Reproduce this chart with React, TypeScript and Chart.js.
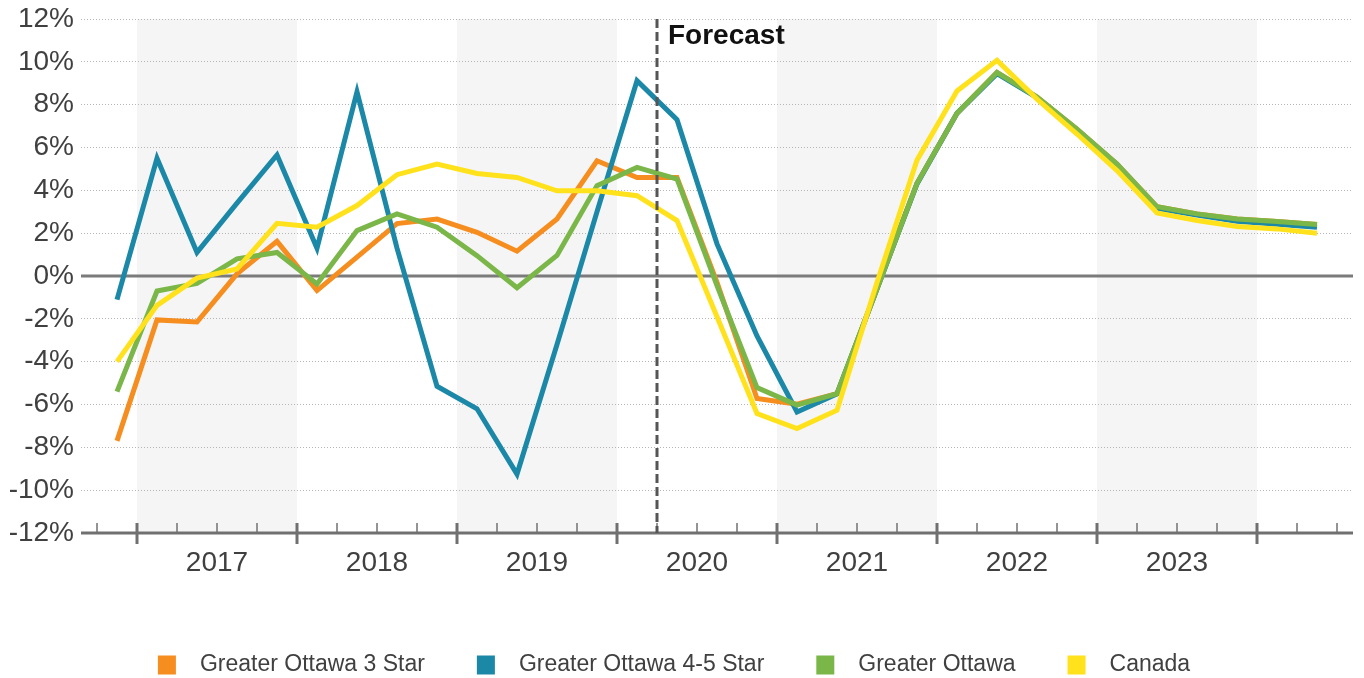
import React, { useEffect, useRef } from 'react';
import { Chart, registerables } from 'chart.js';

Chart.register(...registerables);

// Quarterly periods plotted along the x axis
const quarters = [
  '2016Q4',
  '2017Q1', '2017Q2', '2017Q3', '2017Q4',
  '2018Q1', '2018Q2', '2018Q3', '2018Q4',
  '2019Q1', '2019Q2', '2019Q3', '2019Q4',
  '2020Q1', '2020Q2', '2020Q3', '2020Q4',
  '2021Q1', '2021Q2', '2021Q3', '2021Q4',
  '2022Q1', '2022Q2', '2022Q3', '2022Q4',
  '2023Q1', '2023Q2', '2023Q3', '2023Q4',
  '2024Q1', '2024Q2',
];

// Years labelled under the axis
const yearLabels = ['2017', '2018', '2019', '2020', '2021', '2022', '2023'];

// First forecast quarter
const forecastFrom = '2020Q2';

// Y axis range (percent)
const yMin = -12;
const yMax = 12;
const yStep = 2;

// Year-over-year change, %
const ottawa3Star = [
  -7.7, -2.05, -2.15, 0.1, 1.62, -0.68, 0.88, 2.45, 2.66, 2.04, 1.16, 2.66, 5.38,
  4.6, 4.6, -0.3, -5.72, -5.99, -5.49, -0.6, 4.33, 7.6, 9.5, 8.36, 6.86, 5.23, 3.24,
  2.9, 2.66, 2.55, 2.4,
];
const ottawa45Star = [
  -1.1, 5.5, 1.1, 3.4, 5.65, 1.3, 8.6, 1.3, -5.15, -6.2, -9.25, -3.2, 3.0,
  9.12, 7.3, 1.5, -2.8, -6.35, -5.5, -0.6, 4.3, 7.6, 9.45, 8.33, 6.82, 5.2, 3.15,
  2.85, 2.55, 2.42, 2.28,
];
const greaterOttawa = [
  -5.4, -0.7, -0.35, 0.8, 1.1, -0.37, 2.12, 2.9, 2.28, 0.95, -0.55, 0.96, 4.22,
  5.07, 4.53, -0.45, -5.21, -6.03, -5.49, -0.6, 4.33, 7.6, 9.5, 8.36, 6.86, 5.23, 3.24,
  2.9, 2.66, 2.55, 2.4,
];
const canada = [
  -4.0, -1.37, -0.1, 0.33, 2.46, 2.28, 3.29, 4.73, 5.23, 4.79, 4.6, 3.98, 3.98,
  3.75, 2.59, -1.9, -6.42, -7.12, -6.27, -0.3, 5.41, 8.64, 10.07, 8.26, 6.63, 4.92, 2.94,
  2.59, 2.31, 2.2, 2.0,
];

const seriesNames = [
  'Greater Ottawa 3 Star',
  'Greater Ottawa 4-5 Star',
  'Greater Ottawa',
  'Canada',
];

const FONT = "'Liberation Sans', Arial, Helvetica, sans-serif";
const TEXT = '#404040';
const SERIES_COLORS = ['#F68D1F', '#1C88A8', '#7AB648', '#FFE11C'];

// Index range of the quarters belonging to a year
function yearSpan(year: string): [number, number] {
  const idx = quarters
    .map((q, i) => (q.startsWith(year) ? i : -1))
    .filter((i) => i >= 0);
  return [idx[0], idx[idx.length - 1]];
}

const decorations = {
  id: 'decorations',
  beforeDraw(chart: any) {
    const { ctx, chartArea, scales } = chart;
    const x = scales.x;
    ctx.save();
    ctx.fillStyle = '#f5f5f5';
    yearLabels.forEach((year, k) => {
      if (k % 2 !== 0) return;
      const [a, b] = yearSpan(year);
      const x0 = x.getPixelForValue(a - 0.5);
      const x1 = x.getPixelForValue(b + 0.5);
      ctx.fillRect(x0, chartArea.top, x1 - x0, chartArea.bottom - chartArea.top);
    });
    ctx.restore();
  },
  beforeDatasetsDraw(chart: any) {
    const { ctx, chartArea, scales } = chart;
    const x = scales.x;
    const y = scales.y;
    ctx.save();
    // zero line
    const y0 = y.getPixelForValue(0);
    ctx.strokeStyle = '#7b7b7b';
    ctx.lineWidth = 3;
    ctx.beginPath();
    ctx.moveTo(chartArea.left, y0);
    ctx.lineTo(chartArea.right, y0);
    ctx.stroke();
    // bottom axis line
    const yb = chartArea.bottom;
    ctx.strokeStyle = '#707070';
    ctx.beginPath();
    ctx.moveTo(chartArea.left, yb);
    ctx.lineTo(chartArea.right, yb);
    ctx.stroke();
    // quarter / year tick marks
    for (let i = 0; i <= quarters.length; i++) {
      const px = Math.round(x.getPixelForValue(i - 0.5));
      const major = i < quarters.length && quarters[i].endsWith('Q1');
      ctx.beginPath();
      if (major) {
        ctx.lineWidth = 3;
        ctx.moveTo(px, yb - 10);
        ctx.lineTo(px, yb + 11);
      } else {
        ctx.lineWidth = 1.5;
        ctx.moveTo(px, yb - 10);
        ctx.lineTo(px, yb);
      }
      ctx.stroke();
    }
    ctx.restore();
  },
  afterDatasetsDraw(chart: any) {
    const { ctx, chartArea, scales } = chart;
    const x = scales.x;
    ctx.save();
    // forecast divider
    const fx = Math.round(x.getPixelForValue(quarters.indexOf(forecastFrom) - 0.5));
    ctx.strokeStyle = '#555555';
    ctx.lineWidth = 3;
    ctx.setLineDash([9, 4]);
    ctx.beginPath();
    ctx.moveTo(fx, chartArea.top);
    ctx.lineTo(fx, chartArea.bottom);
    ctx.stroke();
    ctx.setLineDash([]);
    ctx.fillStyle = '#111111';
    ctx.font = `bold 28px ${FONT}`;
    ctx.textAlign = 'left';
    ctx.textBaseline = 'alphabetic';
    ctx.fillText('Forecast', fx + 11, chartArea.top + 25);

    // legend row
    ctx.font = `23px ${FONT}`;
    ctx.textBaseline = 'middle';
    const box = 18;
    const gapText = 24;
    const gapItem = 52;
    const items = chart.data.datasets.map((ds: any) => ({
      label: ds.label as string,
      color: ds.borderColor as string,
      w: ctx.measureText(ds.label).width,
    }));
    const total =
      items.reduce((s: number, it: any) => s + box + gapText + it.w, 0) +
      gapItem * (items.length - 1);
    let cx = 674 - total / 2;
    const cy = 665;
    items.forEach((it: any) => {
      ctx.fillStyle = it.color;
      ctx.fillRect(cx, cy - 9.5, box, 19);
      ctx.fillStyle = TEXT;
      ctx.fillText(it.label, cx + box + gapText, cy);
      cx += box + gapText + it.w + gapItem;
    });
    ctx.restore();
  },
};

export default function App() {
  const canvasRef = useRef<HTMLCanvasElement | null>(null);

  useEffect(() => {
    const canvas = canvasRef.current;
    if (!canvas) return;
    const series = [ottawa3Star, ottawa45Star, greaterOttawa, canada];
    const chart = new Chart(canvas, {
      type: 'line',
      data: {
        datasets: series.map((values, k) => ({
          label: seriesNames[k],
          data: values.map((v, i) => ({ x: i, y: v })),
          borderColor: SERIES_COLORS[k],
          backgroundColor: SERIES_COLORS[k],
          borderWidth: 5,
          borderJoinStyle: 'miter' as const,
          pointRadius: 0,
          pointHoverRadius: 0,
          tension: 0,
          fill: false,
          order: series.length - k,
        })),
      },
      options: {
        animation: false,
        responsive: false,
        events: [],
        layout: { padding: { top: 19, right: 11, left: 0, bottom: 0 } },
        plugins: {
          legend: { display: false },
          tooltip: { enabled: false },
        },
        scales: {
          x: {
            type: 'linear',
            min: -0.9,
            max: quarters.length - 1 + 0.9,
            grid: { display: false, drawTicks: false },
            border: { display: false },
            afterBuildTicks: (scale: any) => {
              scale.ticks = yearLabels.map((yr) => {
                const [a, b] = yearSpan(yr);
                return { value: (a + b) / 2 };
              });
            },
            afterFit: (scale: any) => {
              scale.height = 145;
              scale.paddingLeft = 0;
              scale.paddingRight = 0;
            },
            ticks: {
              autoSkip: false,
              maxRotation: 0,
              padding: 13,
              color: TEXT,
              font: { family: FONT, size: 28 },
              callback: (_v: any, index: number) => yearLabels[index],
            },
          },
          y: {
            min: yMin,
            max: yMax,
            afterFit: (scale: any) => {
              scale.width = 81;
              scale.paddingTop = 0;
              scale.paddingBottom = 0;
            },
            ticks: {
              stepSize: yStep,
              padding: 7,
              color: TEXT,
              font: { family: FONT, size: 28 },
              callback: (v: any) => `${v}%`,
            },
            grid: { color: '#b5b5b5', lineWidth: 1, drawTicks: false },
            border: { display: false, dash: [1, 2] },
          },
        },
      },
      plugins: [decorations],
    });
    return () => chart.destroy();
  }, []);

  return (
    <div
      style={{
        position: 'absolute',
        left: 0,
        top: 0,
        width: 1364,
        height: 678,
        overflow: 'hidden',
        background: '#ffffff',
      }}
    >
      <canvas ref={canvasRef} width={1364} height={678} style={{ display: 'block' }} />
    </div>
  );
}
